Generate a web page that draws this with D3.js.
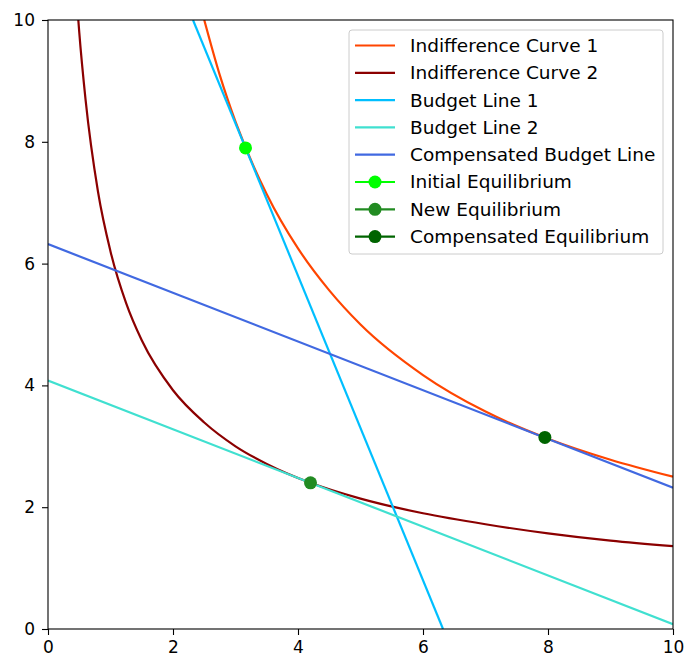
<!DOCTYPE html>
<html>
<head>
<meta charset="utf-8">
<script src="https://cdn.jsdelivr.net/npm/d3@7"></script>
<style>
  body { margin: 0; background: #fff; }
  svg { font-family: "DejaVu Sans", sans-serif; }
</style>
</head>
<body>
<svg id="chart"></svg>
<script>
// values
const ic1 = [[2.5, 10], [2.75, 9.09], [3, 8.33], [3.5, 7.14], [4, 6.25], [4.5, 5.56], [5, 5],
  [6, 4.17], [7, 3.57], [8, 3.125], [9, 2.78], [10, 2.5]];
const ic2 = [[0.485, 10], [0.5, 9.8], [0.6, 8.7], [0.8, 7.18], [1, 6.2], [1.25, 5.35], [1.5, 4.74],
  [2, 3.92], [2.5, 3.39], [3, 3.0], [3.5, 2.71], [4.2, 2.4], [5, 2.14], [6, 1.9], [7, 1.72],
  [8, 1.57], [9, 1.45], [10, 1.36]];
const budget1 = [[2.32, 10], [6.32, 0]];
const budget2 = [[0, 4.08], [10, 0.08]];
const compBudget = [[0, 6.32], [10, 2.32]];
const points = [
  { name: "Initial Equilibrium", x: 3.16, y: 7.9, color: "#00ff00" },
  { name: "New Equilibrium", x: 4.2, y: 2.4, color: "#228b22" },
  { name: "Compensated Equilibrium", x: 7.95, y: 3.145, color: "#006400" }
];
const lines = [
  { name: "Indifference Curve 1", data: ic1, color: "#ff4500", curve: true },
  { name: "Indifference Curve 2", data: ic2, color: "#8b0000", curve: true },
  { name: "Budget Line 1", data: budget1, color: "#00bfff" },
  { name: "Budget Line 2", data: budget2, color: "#40e0d0" },
  { name: "Compensated Budget Line", data: compBudget, color: "#4169e1" }
];
const ticks = [0, 2, 4, 6, 8, 10];

const W = 685, H = 659;
const m = { left: 48, right: 12, top: 20, bottom: 30 };

const svg = d3.select("#chart").attr("width", W).attr("height", H);

const x = d3.scaleLinear().domain([0, 10]).range([m.left, W - m.right]);
const y = d3.scaleLinear().domain([0, 10]).range([H - m.bottom, m.top]);

svg.append("defs").append("clipPath").attr("id", "clip")
  .append("rect")
    .attr("x", m.left).attr("y", m.top)
    .attr("width", x(10) - x(0)).attr("height", y(0) - y(10));

const plot = svg.append("g").attr("clip-path", "url(#clip)");

lines.forEach(l => {
  plot.append("path")
    .datum(l.data)
    .attr("fill", "none")
    .attr("stroke", l.color)
    .attr("stroke-width", 2.2)
    .attr("d", d3.line()
      .x(d => x(d[0]))
      .y(d => y(d[1]))
      .curve(l.curve ? d3.curveMonotoneX : d3.curveLinear));
});

plot.selectAll("circle.pt")
  .data(points)
  .join("circle")
    .attr("class", "pt")
    .attr("cx", d => x(d.x))
    .attr("cy", d => y(d.y))
    .attr("r", 6.5)
    .attr("fill", d => d.color);

// axes
const xAxis = svg.append("g")
  .attr("transform", `translate(0,${y(0)})`)
  .call(d3.axisBottom(x).tickValues(ticks).tickSize(6).tickPadding(6).tickFormat(d3.format("d")));
const yAxis = svg.append("g")
  .attr("transform", `translate(${x(0)},0)`)
  .call(d3.axisLeft(y).tickValues(ticks).tickSize(6).tickPadding(7).tickFormat(d3.format("d")));

[xAxis, yAxis].forEach(a => {
  a.select(".domain").remove();
  a.selectAll(".tick line").attr("stroke", "#000").attr("stroke-width", 1.1);
  a.selectAll(".tick text").attr("font-size", 17).attr("fill", "#000")
    .attr("font-family", "DejaVu Sans");
});

svg.append("rect")
  .attr("x", x(0)).attr("y", y(10))
  .attr("width", x(10) - x(0)).attr("height", y(0) - y(10))
  .attr("fill", "none").attr("stroke", "#000").attr("stroke-width", 1.1);

// legend
const legItems = lines.map(l => ({ name: l.name, color: l.color, marker: false }))
  .concat(points.map(p => ({ name: p.name, color: p.color, marker: true })));

const leg = svg.append("g").attr("transform", "translate(349,30)");
leg.append("rect")
  .attr("width", 314).attr("height", 224)
  .attr("rx", 3)
  .attr("fill", "#fff").attr("fill-opacity", 0.8)
  .attr("stroke", "#ccc");

const rows = leg.selectAll("g.row")
  .data(legItems)
  .join("g")
    .attr("class", "row")
    .attr("transform", (d, i) => `translate(0,${15.5 + i * 27.3})`);

rows.append("line")
  .attr("x1", 6).attr("x2", 46)
  .attr("stroke", d => d.color).attr("stroke-width", 2.2);
rows.filter(d => d.marker).append("circle")
  .attr("cx", 26).attr("r", 6.5).attr("fill", d => d.color);
rows.append("text")
  .attr("x", 61).attr("dy", "0.35em")
  .attr("font-size", 18.5)
  .attr("fill", "#000")
  .text(d => d.name);
</script>
</body>
</html>
